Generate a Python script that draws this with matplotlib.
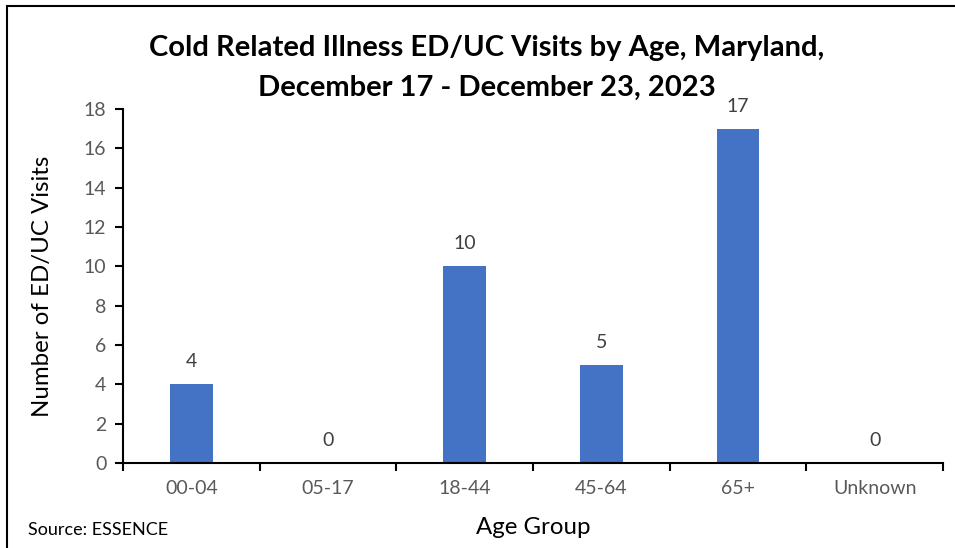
import matplotlib.pyplot as plt
from matplotlib.patches import Rectangle

age_groups = ["00-04", "05-17", "18-44", "45-64", "65+", "Unknown"]
visits = [4, 0, 10, 5, 17, 0]
y_ticks = [0, 2, 4, 6, 8, 10, 12, 14, 16, 18]

plt.rcParams['font.family'] = ['Lato', 'DejaVu Sans']

fig = plt.figure(figsize=(9.55, 5.48), dpi=100)
W, H = 955, 548
ax = fig.add_axes([123 / W, 1 - 463 / H, 820 / W, (463 - 109) / H])

x = list(range(len(age_groups)))
bars = ax.bar(x, visits, width=0.31, color="#4472C4", zorder=2)
for xi, v in zip(x, visits):
    ax.annotate(str(v), xy=(xi, v), xytext=(0, 10), textcoords="offset points",
                ha="center", va="bottom", fontsize=14, color="#404040")

ax.set_xlim(-0.5, len(age_groups) - 0.5)
ax.set_ylim(0, 18)
ax.set_yticks(y_ticks)
ax.set_xticks(x)
ax.set_xticklabels(age_groups)
ax.set_xticks([i - 0.5 for i in range(len(age_groups) + 1)], minor=True)
ax.tick_params(axis="x", which="major", length=0, pad=12, labelsize=14, labelcolor="#595959")
ax.tick_params(axis="x", which="minor", length=6, width=1.5, direction="out", color="black")
ax.tick_params(axis="y", length=6, width=1.5, direction="out", labelsize=14, labelcolor="#595959", pad=6)

for s in ["top", "right"]:
    ax.spines[s].set_visible(False)
ax.spines["left"].set_linewidth(1.5)
ax.spines["bottom"].set_linewidth(1.5)

ax.set_ylabel("Number of ED/UC Visits", fontsize=17.3, labelpad=22)
ax.set_xlabel("Age Group", fontsize=17.3, labelpad=15)

fig.text(487 / W, 1 - 48 / H, "Cold Related Illness ED/UC Visits by Age, Maryland,",
         ha="center", va="center", fontsize=21, fontweight="bold")
fig.text(487 / W, 1 - 88 / H, "December 17 - December 23, 2023",
         ha="center", va="center", fontsize=21, fontweight="bold")
fig.text(28 / W, 1 - 530 / H, "Source: ESSENCE", ha="left", va="center", fontsize=13)

fig.patches.append(Rectangle((7 / W, -0.01), 1.0, 1 - 6 / H + 0.01, transform=fig.transFigure,
                             fill=False, edgecolor="black", linewidth=1.5))

fig.savefig("out.png", dpi=100)
